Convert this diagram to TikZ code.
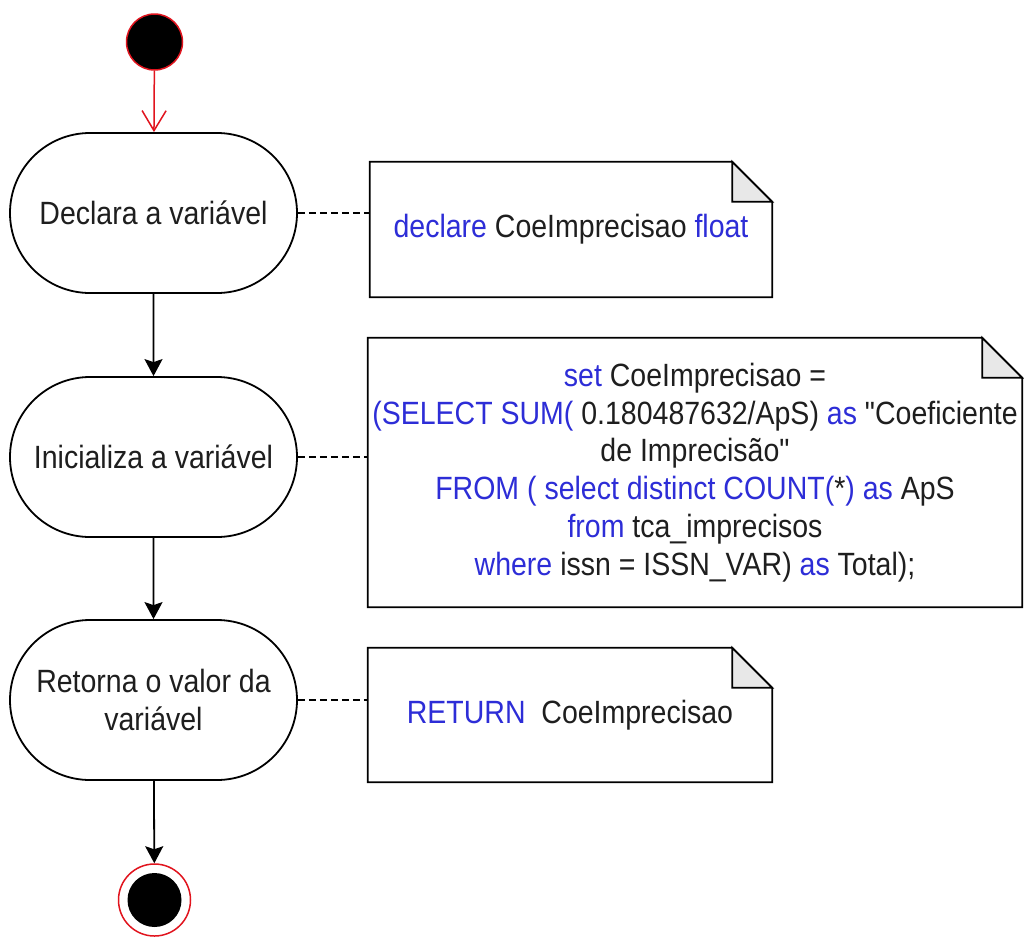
\documentclass[tikz,border=0pt]{standalone}
\usepackage{fontspec}
\setmainfont[FakeStretch=0.885, Ligatures=TeXOff]{Liberation Sans}
\usetikzlibrary{shapes.misc,arrows.meta,calc}
\definecolor{kw}{RGB}{45,45,215}
\definecolor{txt}{RGB}{30,30,30}
\definecolor{umlred}{RGB}{225,20,30}
\definecolor{foldgray}{RGB}{232,232,232}
\newcommand{\kw}[1]{{\color{kw}#1}}
\begin{document}
\begin{tikzpicture}[x=1pt,y=-1pt,
  font=\fontsize{32.2}{37.8}\selectfont,
  activity/.style={rounded rectangle, draw=black, line width=1.8pt, fill=white,
    minimum width=287pt, minimum height=160pt, align=center, text=txt, inner sep=0pt},
  notebox/.style={rectangle, inner sep=0pt, align=center, text=txt},
  noteline/.style={draw=black, line width=1.8pt, line join=miter},
  flow/.style={line width=1.8pt, -{Stealth[length=17pt,width=18pt,inset=3pt]}},
  initflow/.style={draw=umlred, line width=1.5pt, -{Straight Barb[length=20pt,width=24pt,line width=1.5pt]}},
  anchorline/.style={line width=1.5pt, dash pattern=on 7pt off 4pt}
]
\useasboundingbox[fill=white] (0,0) rectangle (1024,940);

% initial and final states
\node[circle, draw=umlred, fill=black, line width=1.5pt, minimum size=56pt, inner sep=0pt] (start) at (154.5,42) {};
\node[circle, draw=umlred, line width=1.5pt, fill=white, minimum size=72pt, inner sep=0pt] (end) at (154.5,900) {};
\node[circle, fill=black, minimum size=54pt, inner sep=0pt] (endcore) at (end) {};

% activities
\node[activity] (a1) at (153.5,213) {Declara a variável};
\node[activity] (a2) at (153.5,457) {Inicializa a variável};
\node[activity] (a3) at (153.5,700) {Retorna o valor da\\variável};

% notes
\node[notebox, minimum width=402pt, minimum height=135pt] (n1) at (571,229.5)
  {\kw{declare} CoeImprecisao \kw{float}};
\node[notebox, minimum width=654pt, minimum height=269pt] (n2) at (695,472.5)
  {\kw{set} CoeImprecisao =\\
   \kw{(SELECT SUM(} 0.180487632/ApS) \kw{as} "Coeficiente\\
   de Imprecisão"\\
   \kw{FROM ( select distinct COUNT(}*\kw{)} \kw{as} ApS\\
   \kw{from} tca\_imprecisos\\
   \kw{where} issn = ISSN\_VAR) \kw{as} Total);};
\node[notebox, minimum width=404pt, minimum height=134pt] (n3) at (570,715)
  {\kw{RETURN}\ \ CoeImprecisao};

\foreach \n in {n1,n2,n3}{
  \draw[noteline] (\n.south west) -- (\n.north west) -- ($(\n.north east)+(-40,0)$)
    -- ($(\n.north east)+(0,40)$) -- (\n.south east) -- cycle;
  \draw[noteline, fill=foldgray] ($(\n.north east)+(-40,0)$) -- ($(\n.north east)+(-40,40)$)
    -- ($(\n.north east)+(0,40)$) -- cycle;
}

% control flow
\draw[initflow] (start) -- (a1);
\draw[flow] (a1) -- (a2);
\draw[flow] (a2) -- (a3);
\draw[flow] (a3) -- (end);

% note anchors
\draw[anchorline] (a1.east) -- (a1.east -| n1.west);
\draw[anchorline] (a2.east) -- (a2.east -| n2.west);
\draw[anchorline] (a3.east) -- (a3.east -| n3.west);
\end{tikzpicture}
\end{document}
